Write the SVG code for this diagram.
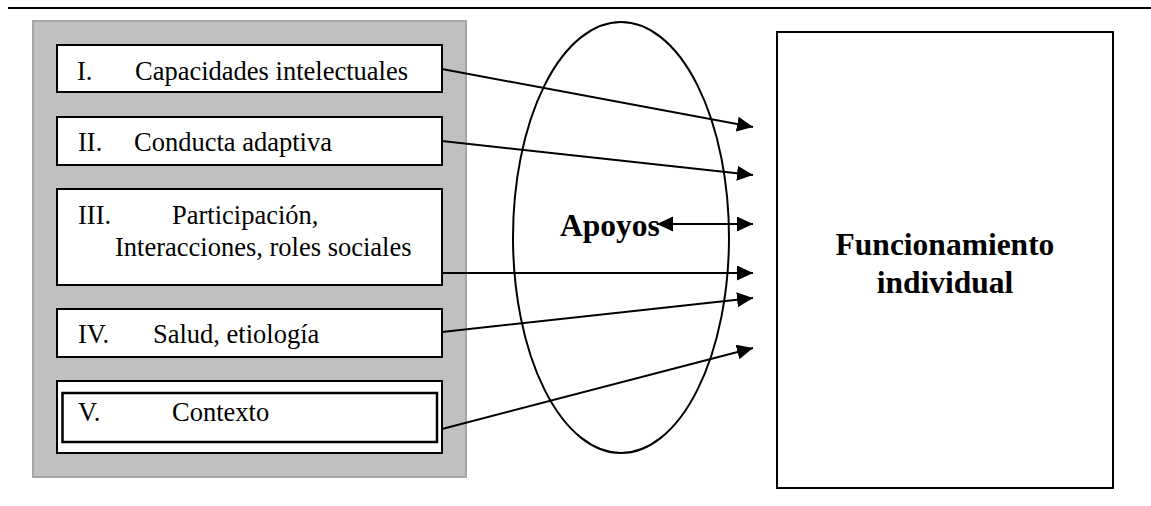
<svg xmlns="http://www.w3.org/2000/svg" width="1151" height="506" viewBox="0 0 1151 506">
<style>
  .box { fill: #ffffff; stroke: #000000; stroke-width: 2; }
  .t { font-family: "Liberation Serif", "Times New Roman", serif; font-size: 26.5px; fill: #000000; }
  .b { font-family: "Liberation Serif", "Times New Roman", serif; font-size: 31.5px; font-weight: bold; fill: #000000; }
  .conn { fill: none; stroke: #000000; stroke-width: 2; }
</style>
<defs>
  <marker id="arrow" markerUnits="userSpaceOnUse" markerWidth="17" markerHeight="16" refX="16" refY="7.5" orient="auto-start-reverse">
    <path d="M0,0 L16,7.5 L0,15 z" fill="#000000"/>
  </marker>
</defs>
<line x1="8" y1="8" x2="1151" y2="8" stroke="#000000" stroke-width="2"/>
<g id="panel">
  <rect x="33" y="21" width="433" height="456" fill="#c0c0c0" stroke="#a6a6a6" stroke-width="2"/>
</g>
<g id="node-I">
  <rect class="box" x="57" y="45" width="385" height="47"/>
  <text class="t" x="77" y="80">I.</text>
  <text class="t" x="135" y="80">Capacidades intelectuales</text>
</g>
<g id="node-II">
  <rect class="box" x="57" y="117" width="385" height="48"/>
  <text class="t" x="78" y="151">II.</text>
  <text class="t" x="134" y="151">Conducta adaptiva</text>
</g>
<g id="node-III">
  <rect class="box" x="57" y="189" width="385" height="96"/>
  <text class="t" x="78" y="224">III.</text>
  <text class="t" x="172" y="224">Participación,</text>
  <text class="t" x="115" y="256">Interacciones, roles sociales</text>
</g>
<g id="node-IV">
  <rect class="box" x="57" y="309" width="385" height="48"/>
  <text class="t" x="78" y="343">IV.</text>
  <text class="t" x="153" y="343">Salud, etiología</text>
</g>
<g id="node-V">
  <rect class="box" x="57" y="381" width="385" height="72" stroke-width="1.5"/>
  <rect x="62.5" y="393" width="374.5" height="49" fill="none" stroke="#000000" stroke-width="2.5"/>
  <text class="t" x="78" y="421">V.</text>
  <text class="t" x="172" y="421">Contexto</text>
</g>
<g id="node-apoyos">
  <ellipse cx="621" cy="237.5" rx="108" ry="215.5" fill="none" stroke="#000000" stroke-width="2"/>
  <text class="b" x="560" y="236">Apoyos</text>
</g>
<g id="node-funcionamiento">
  <rect class="box" x="777" y="32" width="336" height="456"/>
  <text class="b" x="945" y="255" text-anchor="middle">Funcionamiento</text>
  <text class="b" x="945" y="293" text-anchor="middle">individual</text>
</g>
<g id="connectors">
  <line class="conn" x1="442" y1="69" x2="753" y2="127" marker-end="url(#arrow)"/>
  <line class="conn" x1="442" y1="141" x2="753" y2="175" marker-end="url(#arrow)"/>
  <line class="conn" x1="657" y1="224" x2="753" y2="224" marker-start="url(#arrow)" marker-end="url(#arrow)"/>
  <line class="conn" x1="442" y1="273" x2="753" y2="273" marker-end="url(#arrow)"/>
  <line class="conn" x1="442" y1="332" x2="753" y2="298" marker-end="url(#arrow)"/>
  <line class="conn" x1="442" y1="429" x2="753" y2="348" marker-end="url(#arrow)"/>
</g>
</svg>
